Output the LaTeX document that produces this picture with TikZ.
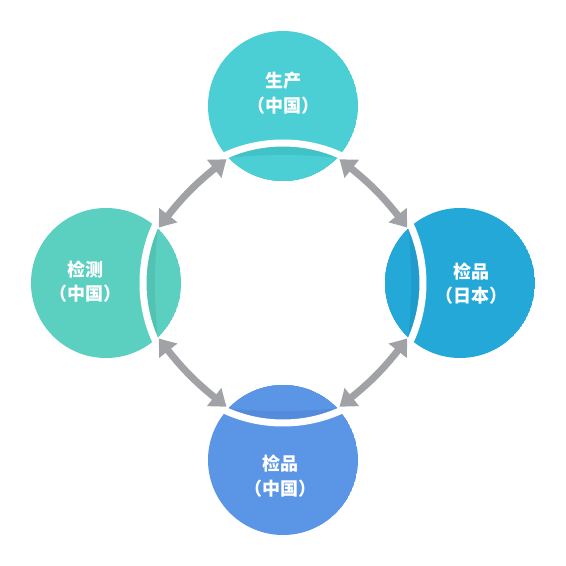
\documentclass[tikz,border=0pt]{standalone}
\usepackage{fontspec}
\newfontfamily\cjk{Noto Sans CJK SC}
\usetikzlibrary{arrows.meta,bending}
\definecolor{cTop}{HTML}{4BCFD4}
\definecolor{cTopD}{HTML}{40C2C7}
\definecolor{cR}{HTML}{24A8D8}
\definecolor{cRD}{HTML}{209CCC}
\definecolor{cB}{HTML}{5B96E6}
\definecolor{cBD}{HTML}{548BDB}
\definecolor{cL}{HTML}{5BCFC0}
\definecolor{cLD}{HTML}{52C2B2}
\definecolor{arrgray}{HTML}{A0A2A5}
\begin{document}
\begin{tikzpicture}[x=1pt,y=1pt,
  arr/.style={draw=arrgray, line width=7pt,
    {Triangle[length=16pt,width=22pt,bend]}-{Triangle[length=16pt,width=22pt,bend]}},
  lbl/.style={text=white, font=\cjk\bfseries\fontsize{18}{24.5}\selectfont, align=center, inner sep=0pt}]
\useasboundingbox[fill=white] (0,0) rectangle (566,566);
\coordinate (C) at (283,283);
\foreach \a/\m/\d in {90/cTop/cTopD, 0/cR/cRD, 270/cB/cBD, 180/cL/cLD} {
  \begin{scope}
    \clip (C) ++(\a:177) circle (75pt);
    \fill[\m] (C) ++(\a:177) circle (75pt);
    \clip (C) circle (137pt);
    \fill[\d] (C) ++(\a:177) circle (75pt);
    \pgfmathsetmacro\b{\a+180}
    \fill[\m] (C) ++(\b:402) circle (530pt);
  \end{scope}
}
\draw[white, line width=7pt] (C) circle (140pt);
% arrow end points
\path (C) ++(114.5:136) coordinate (tl1);
\path (C) ++(156:136) coordinate (tl2);
\path (C) ++(65.5:136) coordinate (tr1);
\path (C) ++(24:136) coordinate (tr2);
\path (C) ++(-24:136) coordinate (br1);
\path (C) ++(-65.5:136) coordinate (br2);
\path (C) ++(204:136) coordinate (bl1);
\path (C) ++(245.5:136) coordinate (bl2);
\draw[arr] (tl1) to[bend right=8] (tl2);
\draw[arr] (tr1) to[bend left=8] (tr2);
\draw[arr] (br1) to[bend left=8] (br2);
\draw[arr] (bl1) to[bend right=8] (bl2);
% labels
\node[lbl] (top) at (283,473) {生产\\（中国）};
\node[lbl] (right) at (471,282.5) {检品\\（日本）};
\node[lbl] (left) at (85,284.5) {检测\\（中国）};
\node[lbl] (bottom) at (280,90) {检品\\（中国）};
\end{tikzpicture}
\end{document}
